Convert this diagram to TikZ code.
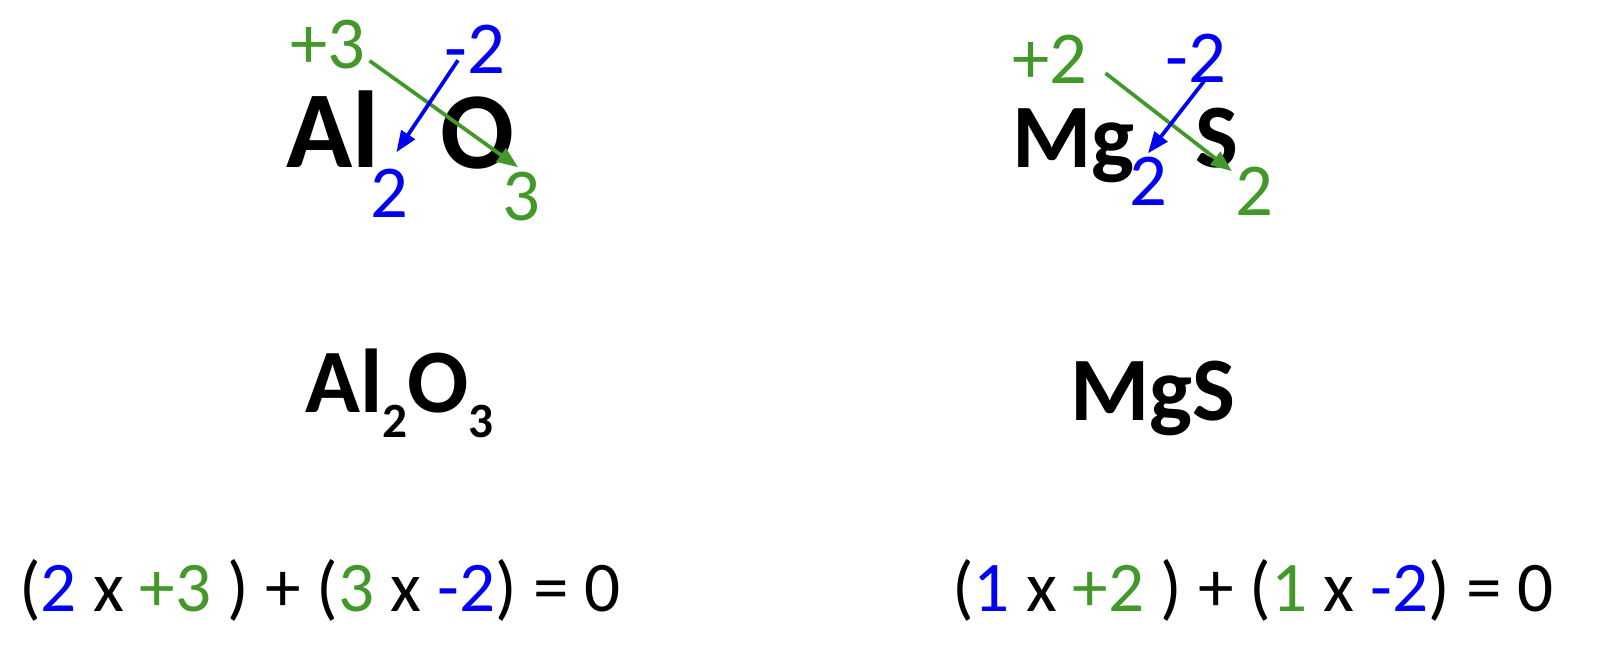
\documentclass[tikz,border=0pt]{standalone}
\usepackage{fontspec}
\setmainfont{Carlito}
\usetikzlibrary{arrows.meta,calc}
\definecolor{chgg}{RGB}{67,152,42}
\definecolor{chgb}{RGB}{0,0,245}
\newcommand\lowsub[1]{\raisebox{-18.75pt}{\fontsize{37}{37}\selectfont #1}}

\begin{document}
\begin{tikzpicture}[x=0.75pt, y=-0.75pt,
  elem/.style={inner sep=0pt, anchor=base west, font=\bfseries\fontsize{82}{90}\selectfont},
  num/.style={inner sep=0pt, anchor=base west, font=\fontsize{56}{60}\selectfont},
  formula/.style={inner sep=0pt, anchor=base west, font=\bfseries\fontsize{68}{80}\selectfont},
  eqn/.style={inner sep=0pt, anchor=base west, font=\fontsize{53.4}{60}\selectfont},
  garrow/.style={draw=chgg, line width=2.8pt, -{Triangle[length=16pt, width=12pt]}},
  barrow/.style={draw=chgb, line width=2.8pt, -{Triangle[length=16pt, width=12pt]}},
]
  \useasboundingbox (0,0) rectangle (1600,653);
  % --- aluminium oxide: criss-cross ---
  \node[num, text=chgg] (alchg) at (290,68) {+3};
  \node[num, text=chgb] (ochg) at (444,73) {-2};
  \node[elem] (al) at (286,167) {Al};
  \node[elem] (ox) at (440,168) {O};
  \node[num, text=chgb] (alsub) at (370,217) {2};
  \node[num, text=chgg] (oxsub) at (502,220) {3};
  \draw[garrow] ($(alchg.south east)+(4,-8)$) -- ($(oxsub.north)+(-3,-4)$);
  \draw[barrow] ($(ochg.south west)+(14,-13)$) -- ($(alsub.north east)+(-12,-16)$);
  % --- magnesium sulfide: criss-cross ---
  \node[num, text=chgg] (mgchg) at (1012,83) {+2};
  \node[num, text=chgb] (schg) at (1165,82) {-2};
  \node[formula] (mg) at (1012,167) {Mg};
  \node[formula] (su) at (1195,167) {S};
  \node[num, text=chgb] (mgsub) at (1129,205) {2};
  \node[num, text=chgg] (susub) at (1235,215) {2};
  \draw[garrow] ($(mgchg.south east)+(18,-10)$) -- ($(susub.north west)+(-3,5)$);
  \draw[barrow] ($(schg.south west)+(39,-1)$) -- ($(mgsub.north west)+(19,-3)$);
  % --- resulting formulas ---
  \node[formula] (alox) at (305,412) {Al\lowsub{2}O\lowsub{3}};
  \node[formula] (mgs) at (1070,420) {MgS};
  % --- charge balance ---
  \node[eqn] (aleq) at (19,611) {(\textcolor{chgb}{2} x \textcolor{chgg}{+3} ) + (\textcolor{chgg}{3} x \textcolor{chgb}{-2}) = 0};
  \node[eqn] (mgeq) at (952,611) {(\textcolor{chgb}{1} x \textcolor{chgg}{+2} ) + (\textcolor{chgg}{1} x \textcolor{chgb}{-2}) = 0};
\end{tikzpicture}
\end{document}
